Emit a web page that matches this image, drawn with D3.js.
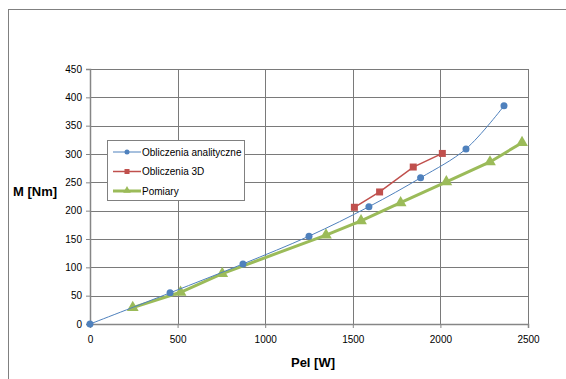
<!DOCTYPE html>
<html>
<head>
<meta charset="utf-8">
<script src="https://cdn.jsdelivr.net/npm/d3@7"></script>
<style>
  body { margin: 0; background: #fff; }
  svg { display: block; font-family: "Liberation Sans", Arial, sans-serif; }
</style>
</head>
<body>
<svg id="chart" width="566" height="379"></svg>
<script>
// series: [Pel W, M Nm]
const analityczne = [[0, 0], [457, 55], [873, 106], [1250, 155], [1592, 207], [1887, 258], [2146, 309], [2363, 385]];
const obliczenia3D = [[1509, 206], [1653, 233], [1845, 277], [2011, 301]];
const pomiary = [[244, 29], [517, 56], [755, 89], [1347, 157], [1547, 182], [1773, 214], [2034, 251], [2283, 286], [2466, 320]];

const xTicks = [0, 500, 1000, 1500, 2000, 2500];
const yTicks = [0, 50, 100, 150, 200, 250, 300, 350, 400, 450];
const legendNames = ['Obliczenia analityczne', 'Obliczenia 3D', 'Pomiary'];

const svg = d3.select('#chart');

// outer chart frame (runs off the right and bottom edge)
svg.append('rect')
  .attr('x', 8.5).attr('y', 9.5)
  .attr('width', 600).attr('height', 400)
  .attr('fill', 'none').attr('stroke', '#808080');

const x = d3.scaleLinear().domain([0, 2500]).range([90, 528]);
const y = d3.scaleLinear().domain([0, 450]).range([324, 69]);

// grid
const grid = svg.append('g').attr('stroke', '#7a7a7a').attr('stroke-width', 1);
grid.selectAll('.h').data(yTicks.slice(1)).join('line')
  .attr('x1', x(0)).attr('x2', x(2500))
  .attr('y1', d => Math.round(y(d)) + 0.5).attr('y2', d => Math.round(y(d)) + 0.5);
grid.selectAll('.v').data(xTicks.slice(1)).join('line')
  .attr('y1', y(0)).attr('y2', y(450))
  .attr('x1', d => Math.round(x(d)) + 0.5).attr('x2', d => Math.round(x(d)) + 0.5);

// axes
const yAxis = d3.axisLeft(y).tickValues(yTicks).tickFormat(d3.format('d')).tickSize(4).tickPadding(4);
const gy = svg.append('g').attr('transform', `translate(${x(0)},0)`).call(yAxis);
const xAxis = d3.axisBottom(x).tickValues(xTicks).tickFormat(d3.format('d')).tickSize(4).tickPadding(8);
const gx = svg.append('g').attr('transform', `translate(0,${y(0)})`).call(xAxis);
[gx, gy].forEach(g => {
  g.select('.domain').attr('stroke', '#868686').attr('stroke-width', 1.5);
  g.selectAll('.tick line').attr('stroke', '#868686');
  g.selectAll('.tick text').attr('font-size', 10).attr('fill', '#000')
    .attr('font-family', '"Liberation Sans", Arial, sans-serif');
});

// axis titles
svg.append('text').attr('x', 313).attr('y', 367).attr('text-anchor', 'middle')
  .attr('font-size', 13).attr('font-weight', 'bold').text('Pel [W]');
svg.append('text').attr('x', 13).attr('y', 196).attr('font-size', 13)
  .attr('font-weight', 'bold').text('M [Nm]');

const line = d3.line().x(d => x(d[0])).y(d => y(d[1]));

const blue = '#4f81bd', red = '#c0504d', green = '#9bbb59';

// Pomiary (green, thick)
svg.append('path').datum(pomiary)
  .attr('d', line).attr('fill', 'none').attr('stroke', green).attr('stroke-width', 3);
const tri = d3.symbol().type(d3.symbolTriangle).size(60);
svg.selectAll('.tri').data(pomiary).join('path')
  .attr('d', tri).attr('fill', green)
  .attr('transform', d => `translate(${x(d[0])},${y(d[1])})`);

// Obliczenia analityczne (blue, smoothed)
svg.append('path').datum(analityczne)
  .attr('d', line.curve(d3.curveCatmullRom.alpha(0.5)))
  .attr('fill', 'none').attr('stroke', blue).attr('stroke-width', 1);
line.curve(d3.curveLinear);
svg.selectAll('.dot').data(analityczne).join('circle')
  .attr('cx', d => x(d[0])).attr('cy', d => y(d[1])).attr('r', 3.5).attr('fill', blue);

// Obliczenia 3D (red)
svg.append('path').datum(obliczenia3D)
  .attr('d', line).attr('fill', 'none').attr('stroke', red).attr('stroke-width', 1.5);
svg.selectAll('.sq').data(obliczenia3D).join('rect')
  .attr('x', d => x(d[0]) - 3.5).attr('y', d => y(d[1]) - 3.5)
  .attr('width', 7).attr('height', 7).attr('fill', red);

// legend
const lg = svg.append('g');
lg.append('rect').attr('x', 107.5).attr('y', 140.5).attr('width', 137).attr('height', 60)
  .attr('fill', '#fff').attr('stroke', '#808080');
const colors = [blue, red, green];
const widths = [1, 1.5, 3];
legendNames.forEach((name, i) => {
  const ly = 152 + i * 19.5;
  lg.append('line').attr('x1', 113).attr('x2', 141).attr('y1', ly).attr('y2', ly)
    .attr('stroke', colors[i]).attr('stroke-width', widths[i]);
  if (i === 0) lg.append('circle').attr('cx', 127).attr('cy', ly).attr('r', 2.5).attr('fill', blue);
  if (i === 1) lg.append('rect').attr('x', 124.5).attr('y', ly - 2.5).attr('width', 5).attr('height', 5).attr('fill', red);
  if (i === 2) lg.append('path').attr('d', d3.symbol().type(d3.symbolTriangle).size(25))
    .attr('transform', `translate(127,${ly - 0.5})`).attr('fill', green);
  lg.append('text').attr('x', 142).attr('y', ly + 3.5).attr('font-size', 10).text(name);
});
</script>
</body>
</html>
